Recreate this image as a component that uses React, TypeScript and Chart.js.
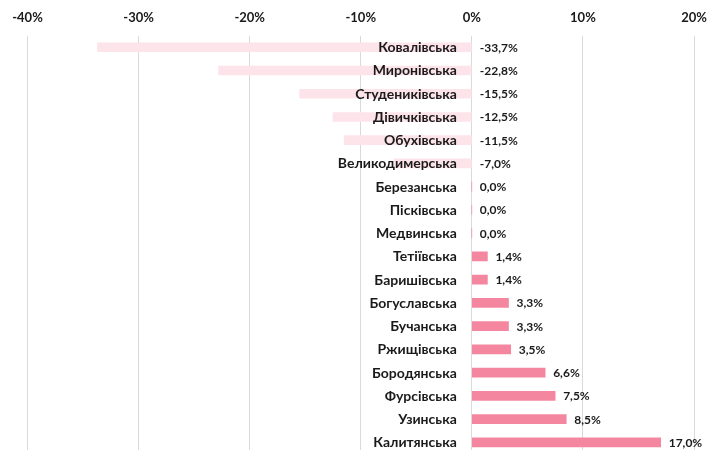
import React, { useEffect, useRef } from "react";
import { Chart, registerables } from "chart.js";

Chart.register(...registerables);

const categories: string[] = [
  "Ковалівська",
  "Миронівська",
  "Студениківська",
  "Дівичківська",
  "Обухівська",
  "Великодимерська",
  "Березанська",
  "Пісківська",
  "Медвинська",
  "Тетіївська",
  "Баришівська",
  "Богуславська",
  "Бучанська",
  "Ржищівська",
  "Бородянська",
  "Фурсівська",
  "Узинська",
  "Калитянська",
];

const changeValues: number[] = [
  -33.7, -22.8, -15.5, -12.5, -11.5, -7.0, 0.0, 0.0, 0.0, 1.4, 1.4, 3.3, 3.3, 3.5, 6.6, 7.5, 8.5, 17.0,
];

const xTickValues: number[] = [-40, -30, -20, -10, 0, 10, 20];

const FONT = "Lato, 'Open Sans', sans-serif";
const POS_COLOR = "#F4879F";
const NEG_COLOR = "#FCE4EA";

const fmt = (v: number) => v.toFixed(1).replace(".", ",") + "%";

const barLabels = {
  id: "barLabels",
  afterDatasetsDraw(chart: any) {
    const ctx = chart.ctx;
    const xs = chart.scales.x;
    const ys = chart.scales.y;
    const zeroX = xs.getPixelForValue(0);
    ctx.save();
    ctx.fillStyle = "#1a1a1a";
    ctx.textBaseline = "middle";
    categories.forEach((name, i) => {
      const y = ys.getPixelForValue(i);
      ctx.font = `bold 14px ${FONT}`;
      ctx.textAlign = "right";
      ctx.fillText(name, zeroX - 15, y + 0.5);
      const v = changeValues[i];
      ctx.font = `bold 12px ${FONT}`;
      ctx.textAlign = "left";
      ctx.fillText(fmt(v), xs.getPixelForValue(Math.max(v, 0)) + 8, y + 0.5);
    });
    ctx.restore();
  },
};

export default function App() {
  const ref = useRef<HTMLCanvasElement | null>(null);

  useEffect(() => {
    if (!ref.current) return;
    const chart = new Chart(ref.current, {
      type: "bar",
      data: {
        labels: categories,
        datasets: [
          {
            data: changeValues,
            backgroundColor: changeValues.map((v) => (v < 0 ? NEG_COLOR : POS_COLOR)),
            barThickness: 9,
            borderWidth: 0,
          },
        ],
      },
      options: {
        indexAxis: "y",
        animation: false,
        responsive: true,
        maintainAspectRatio: false,
        layout: { padding: { top: 0, left: 27.5, right: 15, bottom: 0 } },
        plugins: {
          legend: { display: false },
          tooltip: { enabled: false },
        },
        scales: {
          x: {
            position: "top",
            min: -40,
            max: 20,
            afterBuildTicks: (scale: any) => {
              scale.ticks = xTickValues.map((v) => ({ value: v }));
            },
            afterFit: (scale: any) => {
              scale.paddingLeft = 0;
              scale.paddingRight = 0;
            },
            grid: { color: "#D9D9D9", lineWidth: 1, drawTicks: false },
            border: { display: false },
            ticks: {
              padding: 10,
              color: "#1a1a1a",
              font: { family: FONT, size: 13, weight: "bold" },
              callback: (v: any) => `${v}%`,
            },
          },
          y: {
            display: false,
          },
        },
      },
      plugins: [barLabels],
    });
    return () => chart.destroy();
  }, []);

  return (
    <div style={{ position: "fixed", top: 0, left: 0, width: 709, height: 454, background: "#fff" }}>
      <canvas ref={ref} />
    </div>
  );
}
